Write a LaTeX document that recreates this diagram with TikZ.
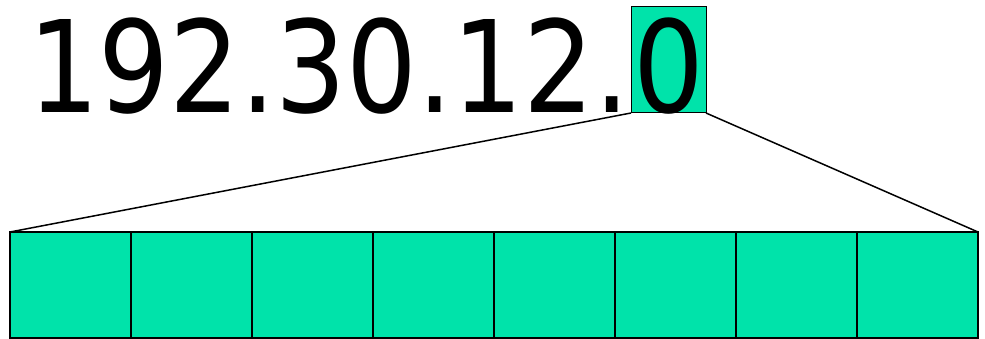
\documentclass[tikz,border=0pt]{standalone}
\usepackage{fontspec}
\newfontfamily\ipfont[FakeStretch=0.97]{DejaVu Sans Condensed}
\definecolor{cellgreen}{RGB}{0,227,170}
\begin{document}
\begin{tikzpicture}[x=1pt,y=-1pt,
  cell/.style={draw=black,fill=cellgreen,line width=1.5pt,minimum width=121pt,minimum height=106pt,inner sep=0pt,outer sep=0pt,anchor=north west},
  topbox/.style={draw=black,fill=cellgreen,line width=1pt,minimum width=75pt,minimum height=106pt,inner sep=0pt,outer sep=0pt,anchor=north west},
  iptext/.style={font=\ipfont\fontsize{127.6}{130}\selectfont,inner sep=0pt,outer sep=0pt,text=black},
  conn/.style={line width=1.5pt}]
\useasboundingbox (0,0) rectangle (985,339);
\node[topbox] (tb) at (631,7) {};
\node[iptext,anchor=base east] (pre) at (630,113) {192.30.12.};
\node[iptext,anchor=base] (last) at (668.5,113) {0};
\foreach \i in {1,...,8}{
  \node[cell] (c\i) at ({10+(\i-1)*121},232) {};
}
\draw[conn] (tb.south west) -- (c1.north west);
\draw[conn] (tb.south east) -- (c8.north east);
\end{tikzpicture}
\end{document}
